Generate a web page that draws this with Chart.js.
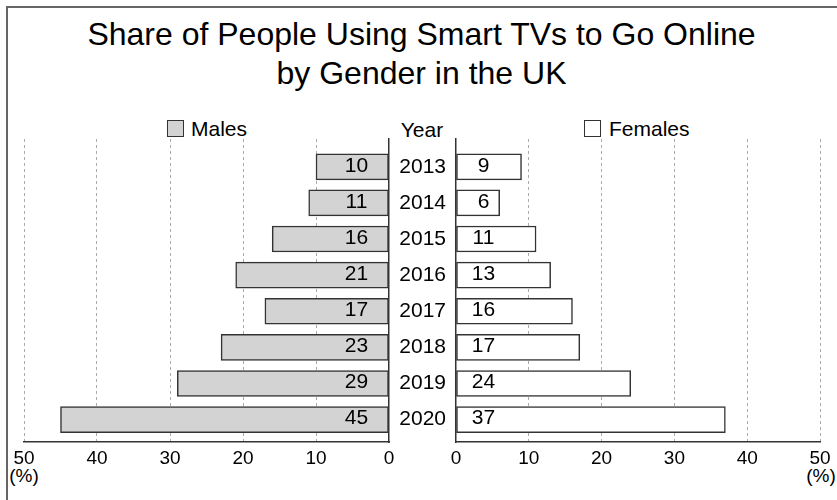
<!DOCTYPE html>
<html>
<head>
<meta charset="utf-8">
<script src="https://cdn.jsdelivr.net/npm/chart.js@4.4.1/dist/chart.umd.min.js"></script>
<style>
  html, body { margin: 0; padding: 0; background: #fff; }
  #wrap { position: relative; width: 837px; height: 500px; overflow: hidden; font-family: "Liberation Sans", Arial, sans-serif; color: #000; }
  #wrap canvas { position: absolute; left: 0; top: 0; }
  .txt { position: absolute; white-space: nowrap; }
  .frame { position: absolute; left: 6px; top: 6px; width: 900px; height: 600px; border-top: 2px solid #666; border-left: 2px solid #666; }
  .title { left: 3px; width: 837px; text-align: center; font-size: 32px; line-height: 39px; }
  .legend-box { position: absolute; width: 17px; height: 17px; box-sizing: border-box; border: 1.5px solid #333; }
  .legend-text { font-size: 21px; line-height: 21px; top: 118px; }
  .pct { font-size: 19px; line-height: 19px; top: 466px; width: 100px; text-align: center; }
</style>
</head>
<body>
<div id="wrap">
  <div class="frame"></div>
  <div class="txt title" style="top:15px">Share of People Using Smart TVs to Go Online<br>by Gender in the UK</div>

  <div class="legend-box" style="left:167px; top:120px; background:#d3d3d3"></div>
  <div class="txt legend-text" style="left:191px">Males</div>
  <div class="txt legend-text" style="left:372px; width:100px; text-align:center; top:119px">Year</div>
  <div class="legend-box" style="left:584px; top:120px; background:#fff"></div>
  <div class="txt legend-text" style="left:609px">Females</div>

  <div class="txt pct" style="left:-26px">(%)</div>
  <div class="txt pct" style="left:771px">(%)</div>

  <canvas id="malesChart" width="837" height="500"></canvas>
  <canvas id="femalesChart" width="837" height="500"></canvas>
</div>

<script>
// datos
const years = ['2013', '2014', '2015', '2016', '2017', '2018', '2019', '2020'];
const males = [10, 11, 16, 21, 17, 23, 29, 45];
const females = [9, 6, 11, 13, 16, 17, 24, 37];
const xTicks = [0, 10, 20, 30, 40, 50];

Chart.defaults.font.family = '"Liberation Sans", Arial, sans-serif';
Chart.defaults.color = '#000';

const FONT = '"Liberation Sans", Arial, sans-serif';

// escribe el valor dentro de cada barra, cerca de la base
const barValueLabels = {
    id: 'barValueLabels',
    afterDatasetsDraw(chart, args, opts) {
        const ctx = chart.ctx;
        const meta = chart.getDatasetMeta(0);
        const values = chart.data.datasets[0].data;
        ctx.save();
        ctx.font = '21px ' + FONT;
        ctx.fillStyle = '#000';
        ctx.textAlign = 'center';
        ctx.textBaseline = 'middle';
        meta.data.forEach(function(bar, i) {
            ctx.fillText(String(values[i].x), bar.base + opts.offset, bar.y - 1);
        });
        ctx.restore();
    }
};

// eje y lineal para dejar un margen arriba y abajo como en el original
const yMin = -0.77;
const yMax = 7.62;

function xScale(reverse) {
    return {
        type: 'linear',
        min: 0,
        max: 50,
        reverse: reverse,
        position: 'bottom',
        afterBuildTicks: function(scale) {
            scale.ticks = xTicks.map(function(v) { return { value: v }; });
        },
        afterFit: function(scale) { scale.height = 30; },
        ticks: {
            font: { size: 19 },
            color: '#000',
            padding: 5,
            maxRotation: 0
        },
        grid: {
            drawTicks: false,
            lineWidth: 1,
            color: function(c) { return c.tick && c.tick.value === 0 ? 'rgba(0,0,0,0)' : '#aaaaaa'; }
        },
        border: { display: true, color: '#333', width: 1.5, dash: [3, 3] }
    };
}

function yScale(position) {
    return {
        type: 'linear',
        min: yMin,
        max: yMax,
        reverse: true,
        offset: false,
        bounds: 'data',
        position: position,
        grid: { display: false, drawTicks: false, offset: false },
        border: { display: true, color: '#333', width: 1.5 }
    };
}

function makeData(values, fill) {
    return {
        datasets: [{
            data: values.map(function(v, i) { return { x: v, y: i }; }),
            backgroundColor: fill,
            borderColor: '#333',
            borderWidth: 1.5,
            borderSkipped: false,
            barThickness: 26
        }]
    };
}

// hombres (lado izquierdo, eje invertido)
const yMales = yScale('right');
yMales.afterFit = function(scale) { scale.width = 0; };
yMales.ticks = { display: false };

new Chart(document.getElementById('malesChart'), {
    type: 'bar',
    data: makeData(males, '#d3d3d3'),
    options: {
        indexAxis: 'y',
        responsive: false,
        animation: false,
        devicePixelRatio: 1,
        layout: { padding: { left: 24, right: 448, top: 139, bottom: 28 } },
        scales: { x: xScale(true), y: yMales },
        plugins: {
            legend: { display: false },
            tooltip: { enabled: false },
            barValueLabels: { offset: -32 }
        }
    },
    plugins: [barValueLabels]
});

// mujeres (lado derecho, con los anos en el eje y)
const yFemales = yScale('left');
yFemales.afterBuildTicks = function(scale) {
    scale.ticks = years.map(function(y, i) { return { value: i }; });
};
yFemales.afterFit = function(scale) { scale.width = 68; };
yFemales.ticks = {
    autoSkip: false,
    font: { size: 21 },
    color: '#000',
    padding: 10,
    callback: function(value) { return years[value]; }
};

new Chart(document.getElementById('femalesChart'), {
    type: 'bar',
    data: makeData(females, '#ffffff'),
    options: {
        indexAxis: 'y',
        responsive: false,
        animation: false,
        devicePixelRatio: 1,
        layout: { padding: { left: 388, right: 17, top: 139, bottom: 28 } },
        scales: { x: xScale(false), y: yFemales },
        plugins: {
            legend: { display: false },
            tooltip: { enabled: false },
            barValueLabels: { offset: 27 }
        }
    },
    plugins: [barValueLabels]
});
</script>
</body>
</html>
